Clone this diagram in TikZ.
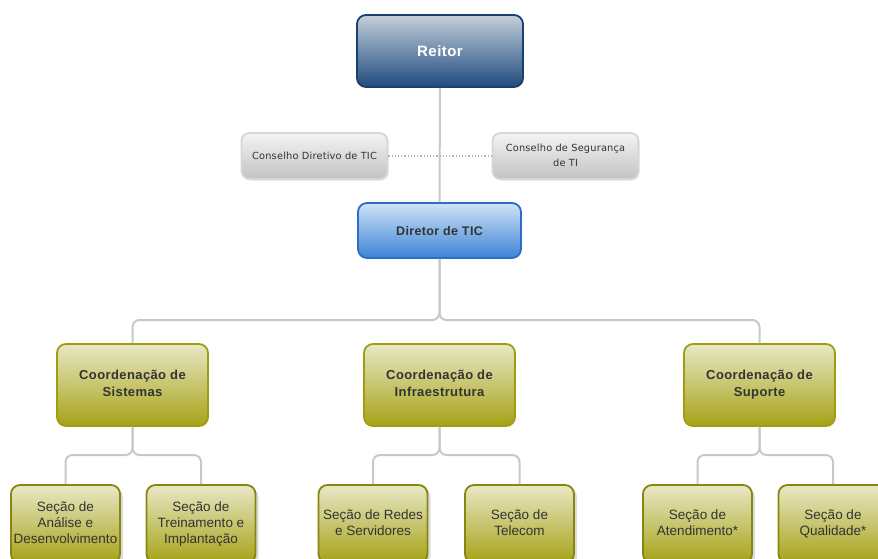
\documentclass[tikz,border=0pt]{standalone}
\usepackage{fontspec}
\usepackage{tikz}
\usetikzlibrary{shadows, positioning}
\newfontfamily\headfont[LetterSpace=3.0]{Liberation Sans}
\newfontfamily\cellfont{Liberation Sans}
\newfontfamily\smallfont[LetterSpace=2.0]{DejaVu Sans}
\definecolor{lineGray}{HTML}{C8C8C8}
\definecolor{textGray}{HTML}{333333}
\definecolor{navyTop}{HTML}{C4CFDB}
\definecolor{navyBot}{HTML}{1F4B7D}
\definecolor{navyLine}{HTML}{1A406E}
\definecolor{blueTop}{HTML}{D0E3F6}
\definecolor{blueBot}{HTML}{3C84D6}
\definecolor{blueLine}{HTML}{2A6FC6}
\definecolor{oliveTop}{HTML}{E8E8C6}
\definecolor{oliveBot}{HTML}{A6A216}
\definecolor{oliveLine}{HTML}{A09E10}
\definecolor{greyTop}{HTML}{F4F4F4}
\definecolor{greyBot}{HTML}{C2C2C2}
\definecolor{greyLine}{HTML}{D6D6D6}
\newcommand{\capstrut}{\rule[-0.23em]{0pt}{1.18em}}
\tikzstyle{box}=[rounded corners=9pt, line width=1.8pt, align=center, inner sep=0pt, execute at begin node=\capstrut, execute at end node=\capstrut]
\tikzstyle{topbox}=[box, top color=navyTop, bottom color=navyBot, draw=navyLine, minimum width=166pt, minimum height=72pt, text=white, font={\headfont\bfseries\fontsize{15}{18}\selectfont}]
\tikzstyle{councilbox}=[box, rounded corners=8pt, top color=greyTop, bottom color=greyBot, draw=greyLine, minimum width=146pt, minimum height=46pt, text=textGray, font={\smallfont\fontsize{9.8}{15}\selectfont}, drop shadow={shadow xshift=1pt, shadow yshift=-1.5pt, fill=gray!40}]
\tikzstyle{headbox}=[box, top color=blueTop, bottom color=blueBot, draw=blueLine, minimum width=163pt, minimum height=55pt, text=textGray, font={\headfont\bfseries\fontsize{12.5}{16}\selectfont}]
\tikzstyle{coordbox}=[box, top color=oliveTop, bottom color=oliveBot, draw=oliveLine, minimum width=151pt, minimum height=82pt, text=textGray, font={\headfont\bfseries\fontsize{13}{17}\selectfont}]
\tikzstyle{sectionbox}=[box, top color=oliveTop, bottom color=oliveBot, draw=oliveLine!85!black, minimum width=109pt, minimum height=78pt, text=textGray, font={\cellfont\fontsize{13.5}{16}\selectfont}, drop shadow={shadow xshift=3pt, shadow yshift=-3pt, fill=gray!55}]
\tikzstyle{connector}=[lineGray, line width=2pt, rounded corners=7pt]
\newcommand{\drawBranch}[4]{
    \coordinate (#1-j) at (#1.south |- 0,#4);
    \draw[connector] (#1.south) -- (#1-j) -| (#2.north);
    \draw[connector] (#1.south) -- (#1-j) -| (#3.north);
}
\begin{document}
\begin{tikzpicture}[x=1pt, y=-1pt]
    \useasboundingbox (0,0) rectangle (878,559);
    \clip (0,0) rectangle (878,559);

    % Top
    \node[topbox] (reitor) at (440,51) {Reitor};
    \node[councilbox] (cdir) at (314.5,156) {Conselho Diretivo de TIC};
    \node[councilbox] (cseg) at (565.5,156) {Conselho de Segurança\\de TI};
    \node[headbox] (diretor) at (439.5,230.5) {Diretor de TIC};

    % Coordinations
    \node[coordbox] (csis) at (132.5,385) {Coordenação de\\Sistemas};
    \node[coordbox] (cinf) at (439.5,385) {Coordenação de\\Infraestrutura};
    \node[coordbox] (csup) at (759.5,385) {Coordenação de\\Suporte};

    % Sections
    \node[sectionbox] (sad) at (65.5,524) {Seção de\\Análise e\\Desenvolvimento};
    \node[sectionbox] (str) at (201,524) {Seção de\\Treinamento e\\Implantação};
    \node[sectionbox] (srd) at (373,524) {Seção de Redes\\e Servidores};
    \node[sectionbox] (stl) at (519.5,524) {Seção de\\Telecom};
    \node[sectionbox] (sat) at (697.5,524) {Seção de\\Atendimento*};
    \node[sectionbox] (squ) at (833,524) {Seção de\\Qualidade*};

    % Connectors
    \draw[connector] (reitor.south) -- (diretor.north);
    \draw[lineGray!70!gray, line width=1.2pt, dotted] (cdir.east) -- (cseg.west);
    \drawBranch{diretor}{csis}{csup}{320}
    \drawBranch{csis}{sad}{str}{455}
    \drawBranch{cinf}{srd}{stl}{455}
    \drawBranch{csup}{sat}{squ}{455}
\end{tikzpicture}
\end{document}
